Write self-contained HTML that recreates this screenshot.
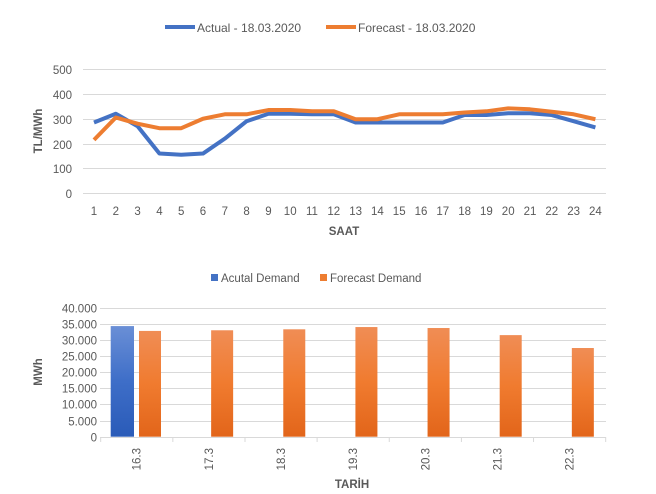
<!DOCTYPE html>
<html><head><meta charset="utf-8"><style>
body{margin:0;background:#fff;}
svg{display:block;font-family:"Liberation Sans",sans-serif;}
</style></head><body>
<svg width="656" height="494" viewBox="0 0 656 494">
<defs>
<linearGradient id="gb" x1="0" y1="0" x2="0" y2="1"><stop offset="0" stop-color="#6a8fd6"/><stop offset="0.5" stop-color="#3e6ec8"/><stop offset="1" stop-color="#2a5bb8"/></linearGradient>
<linearGradient id="go" x1="0" y1="0" x2="0" y2="1"><stop offset="0" stop-color="#f08d55"/><stop offset="0.5" stop-color="#f07b2f"/><stop offset="1" stop-color="#e2651a"/></linearGradient>
</defs>
<!-- legend top -->
<line x1="165" y1="27" x2="195" y2="27" stroke="#4472c4" stroke-width="4"/>
<text x="197" y="32" font-size="12" fill="#595959">Actual - 18.03.2020</text>
<line x1="326" y1="27" x2="356" y2="27" stroke="#ed7d31" stroke-width="4"/>
<text x="358" y="32" font-size="12" fill="#595959">Forecast - 18.03.2020</text>
<!-- grid -->
<g stroke="#d9d9d9" stroke-width="1">
<line x1="83" y1="69.5" x2="606" y2="69.5"/><line x1="83" y1="94.5" x2="606" y2="94.5"/><line x1="83" y1="119.5" x2="606" y2="119.5"/><line x1="83" y1="144.5" x2="606" y2="144.5"/><line x1="83" y1="168.5" x2="606" y2="168.5"/><line x1="83" y1="193.5" x2="606" y2="193.5"/>
</g>
<g font-size="11.5" fill="#595959" text-anchor="end">
<text x="72" y="74">500</text><text x="72" y="99">400</text><text x="72" y="124">300</text><text x="72" y="149">200</text><text x="72" y="173">100</text><text x="72" y="198">0</text>
</g>
<text transform="translate(42,131) rotate(-90)" font-size="11.5" font-weight="bold" fill="#595959" text-anchor="middle">TL/MWh</text>
<g font-size="11.5" fill="#595959" text-anchor="middle" id="xl"></g>
<text x="344" y="235" font-size="11.5" font-weight="bold" fill="#595959" text-anchor="middle">SAAT</text>
<polyline id="pa" fill="none" stroke="#4472c4" stroke-width="4" stroke-linejoin="round"/>
<polyline id="pf" fill="none" stroke="#ed7d31" stroke-width="4" stroke-linejoin="round"/>

<!-- bar chart -->
<rect x="211" y="274" width="7" height="7" fill="#4472c4"/>
<text x="221" y="282" font-size="11.5" fill="#595959">Acutal Demand</text>
<rect x="320" y="274" width="7" height="7" fill="#ed7d31"/>
<text x="330" y="282" font-size="11.5" fill="#595959">Forecast Demand</text>
<g stroke="#d9d9d9" stroke-width="1" id="bg"></g>
<g font-size="11.5" fill="#595959" text-anchor="end" id="by"></g>
<text transform="translate(42,372) rotate(-90)" font-size="11.5" font-weight="bold" fill="#595959" text-anchor="middle">MWh</text>
<g id="bars"></g>
<text x="352" y="488" font-size="11.5" font-weight="bold" fill="#595959" text-anchor="middle">TARİH</text>
</svg>
<script>
var ns="http://www.w3.org/2000/svg";
function el(p,t,a,txt){var e=document.createElementNS(ns,t);for(var k in a)e.setAttribute(k,a[k]);if(txt!=null)e.textContent=txt;document.getElementById(p).appendChild(e);return e;}
var A=[285,320,270,160,155,160,220,290,320,320,318,318,285,285,285,285,285,315,315,322,322,315,290,265];
var F=[215,305,280,262,262,300,318,318,335,335,330,330,298,298,318,318,318,325,330,342,338,328,318,298];
function X(i){return 94+i*21.8;}function Y(v){return 193.3-v*0.2485;}
document.getElementById('pa').setAttribute('points',A.map(function(v,i){return X(i)+','+Y(v)}).join(' '));
document.getElementById('pf').setAttribute('points',F.map(function(v,i){return X(i)+','+Y(v)}).join(' '));
for(var i=0;i<24;i++)el('xl','text',{x:X(i),y:215},i+1);
var y0=436.7,s=129/40000;
var labs=['0','5.000','10.000','15.000','20.000','25.000','30.000','35.000','40.000'];
for(var j=0;j<=8;j++){var yy=Math.round(y0-j*5000*s)+0.5;el('bg','line',{x1:100,y1:yy,x2:606,y2:yy});el('by','text',{x:97,y:yy+4},labs[j]);}
var cats=['16.3','17.3','18.3','19.3','20.3','21.3','22.3'],FV=[32800,33000,33300,34000,33700,31500,27500];
for(var c=0;c<7;c++){var x0=100.7+c*72.14;
el('bg','line',{x1:x0,y1:437,x2:x0,y2:442});
el('bars','rect',{x:x0+38.3,y:y0-FV[c]*s,width:22,height:FV[c]*s,fill:'url(#go)'});
var t=el('bars','text',{transform:'translate('+(x0+40)+',448) rotate(-90)','font-size':'11.5',fill:'#595959','text-anchor':'end'},cats[c]);}
el('bg','line',{x1:605.7,y1:437,x2:605.7,y2:442});
el('bars','rect',{x:110.7,y:y0-34300*s,width:23.3,height:34300*s,fill:'url(#gb)'});
</script>
</body></html>
